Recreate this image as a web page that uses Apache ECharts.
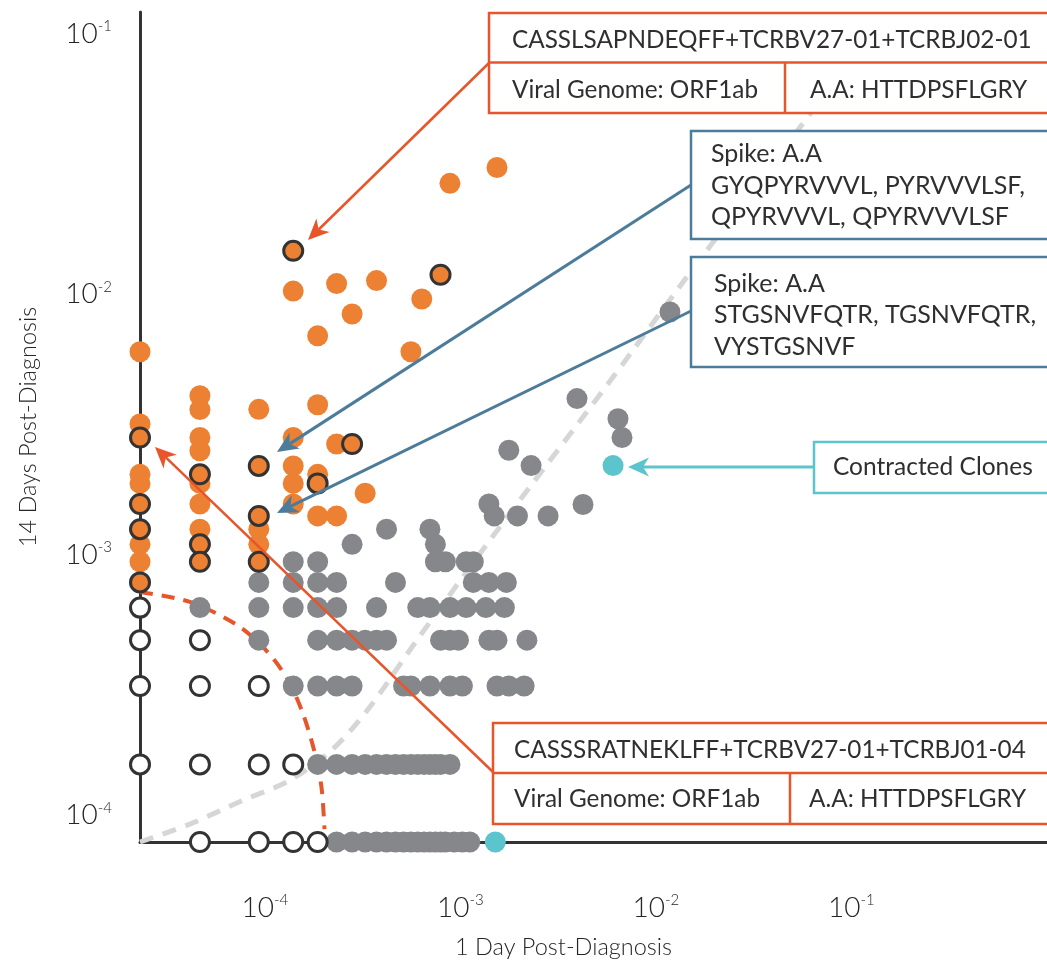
<!DOCTYPE html>
<html><head><meta charset="utf-8">
<script src="https://cdn.jsdelivr.net/npm/echarts@6/dist/echarts.min.js"></script>
<style>html,body{margin:0;padding:0;background:#fff}#c{width:1047px;height:964px}</style>
</head><body><div id="c"></div>
<script>
// ---- data: [1 day freq, 14 day freq]; 0 = not detected (drawn on the axis) ----
const tickExponents = [-4, -3, -2, -1];

const expandedClones = [
  [0, 6.02e-3], [0, 3.18e-3], [0, 2.037e-3], [0, 1.88e-3], [0, 1.097e-3], [0, 9.40e-4],
  [4.66e-5, 4.08e-3], [4.66e-5, 3.61e-3], [4.66e-5, 2.82e-3], [4.66e-5, 2.51e-3], [4.66e-5, 1.88e-3], [4.66e-5, 1.567e-3], [4.66e-5, 1.254e-3],
  [9.32e-5, 3.62e-3], [9.32e-5, 1.254e-3], [9.32e-5, 1.097e-3],
  [1.398e-4, 1.03e-2], [1.398e-4, 2.82e-3], [1.398e-4, 2.194e-3], [1.398e-4, 1.88e-3], [1.398e-4, 1.567e-3],
  [1.864e-4, 6.93e-3], [1.864e-4, 3.77e-3], [1.864e-4, 2.037e-3], [1.864e-4, 1.41e-3],
  [2.33e-4, 1.10e-2], [2.33e-4, 2.664e-3], [2.33e-4, 1.41e-3],
  [2.796e-4, 8.41e-3], [3.262e-4, 1.724e-3], [3.728e-4, 1.13e-2], [5.59e-4, 6.02e-3],
  [6.35e-4, 9.60e-3], [8.85e-4, 2.67e-2], [1.54e-3, 3.07e-2]
];

const annotatedClones = [
  [0, 2.821e-3], [0, 1.567e-3], [0, 1.254e-3], [0, 7.835e-4],
  [4.66e-5, 2.037e-3], [4.66e-5, 1.097e-3], [4.66e-5, 9.40e-4],
  [9.32e-5, 2.194e-3], [9.32e-5, 1.41e-3], [9.32e-5, 9.40e-4],
  [1.398e-4, 1.47e-2], [1.864e-4, 1.88e-3], [2.796e-4, 2.664e-3], [7.92e-4, 1.19e-2]
];

const belowThreshold = [
  [0, 1.567e-4], [0, 3.134e-4], [0, 4.701e-4], [0, 6.268e-4],
  [4.66e-5, 0], [4.66e-5, 1.567e-4], [4.66e-5, 3.134e-4], [4.66e-5, 4.701e-4],
  [9.32e-5, 0], [9.32e-5, 1.567e-4], [9.32e-5, 3.134e-4],
  [1.398e-4, 0], [1.398e-4, 1.567e-4],
  [1.864e-4, 0]
];

const stableClones = [
  // 14 day = 0
  [2.33e-4, 0], [2.796e-4, 0], [3.262e-4, 0], [3.728e-4, 0], [4.194e-4, 0], [4.66e-4, 0], [5.126e-4, 0],
  [5.592e-4, 0], [6.058e-4, 0], [6.524e-4, 0], [6.99e-4, 0], [7.456e-4, 0], [7.922e-4, 0], [8.388e-4, 0],
  [9.32e-4, 0], [1.025e-3, 0], [1.118e-3, 0],
  // 14 day = 1.567e-4
  [1.864e-4, 1.567e-4], [2.33e-4, 1.567e-4], [2.796e-4, 1.567e-4], [3.262e-4, 1.567e-4], [3.728e-4, 1.567e-4],
  [4.194e-4, 1.567e-4], [4.66e-4, 1.567e-4], [5.126e-4, 1.567e-4], [5.592e-4, 1.567e-4], [6.058e-4, 1.567e-4],
  [6.524e-4, 1.567e-4], [6.99e-4, 1.567e-4], [7.456e-4, 1.567e-4], [7.922e-4, 1.567e-4], [8.854e-4, 1.567e-4],
  // 14 day = 3.134e-4
  [1.398e-4, 3.134e-4], [1.864e-4, 3.134e-4], [2.33e-4, 3.134e-4], [2.796e-4, 3.134e-4], [5.126e-4, 3.134e-4],
  [5.592e-4, 3.134e-4], [6.99e-4, 3.134e-4], [8.854e-4, 3.134e-4], [1.025e-3, 3.134e-4], [1.54e-3, 3.134e-4],
  [1.77e-3, 3.134e-4], [2.12e-3, 3.134e-4],
  // 14 day = 4.701e-4
  [9.32e-5, 4.701e-4], [1.864e-4, 4.701e-4], [2.33e-4, 4.701e-4], [2.796e-4, 4.701e-4], [3.262e-4, 4.701e-4],
  [3.728e-4, 4.701e-4], [4.194e-4, 4.701e-4], [7.922e-4, 4.701e-4], [8.854e-4, 4.701e-4], [9.786e-4, 4.701e-4],
  [1.40e-3, 4.701e-4], [1.54e-3, 4.701e-4], [2.19e-3, 4.701e-4],
  // 14 day = 6.268e-4
  [4.66e-5, 6.268e-4], [9.32e-5, 6.268e-4], [1.398e-4, 6.268e-4], [1.864e-4, 6.268e-4], [2.33e-4, 6.268e-4],
  [3.728e-4, 6.268e-4], [6.058e-4, 6.268e-4], [6.99e-4, 6.268e-4], [8.854e-4, 6.268e-4], [1.072e-3, 6.268e-4],
  [1.35e-3, 6.268e-4], [1.68e-3, 6.268e-4],
  // 14 day = 7.835e-4
  [9.32e-5, 7.835e-4], [1.398e-4, 7.835e-4], [1.864e-4, 7.835e-4], [2.33e-4, 7.835e-4], [4.66e-4, 7.835e-4],
  [1.165e-3, 7.835e-4], [1.40e-3, 7.835e-4], [1.72e-3, 7.835e-4],
  // 14 day = 9.402e-4
  [1.398e-4, 9.402e-4], [1.864e-4, 9.402e-4], [7.456e-4, 9.402e-4], [8.388e-4, 9.402e-4], [1.072e-3, 9.402e-4], [1.165e-3, 9.402e-4],
  // higher
  [2.796e-4, 1.097e-3], [7.456e-4, 1.097e-3], [4.194e-4, 1.254e-3], [6.99e-4, 1.254e-3],
  [1.40e-3, 1.567e-3], [1.49e-3, 1.41e-3], [1.96e-3, 1.41e-3], [2.81e-3, 1.41e-3],
  [1.77e-3, 2.52e-3], [2.30e-3, 2.20e-3], [3.95e-3, 3.98e-3], [4.24e-3, 1.56e-3],
  [6.40e-3, 3.33e-3], [6.71e-3, 2.82e-3], [1.18e-2, 8.56e-3]
];

const contractedClones = [[6.04e-3, 2.20e-3], [1.51e-3, 0]];

const thresholdCurve = [
  [0, 7.20e-4], [4.14e-5, 6.59e-4], [7.20e-5, 5.38e-4], [1.0e-4, 4.35e-4], [1.295e-4, 3.37e-4],
  [1.56e-4, 2.48e-4], [1.80e-4, 1.74e-4], [1.95e-4, 1.28e-4], [2.02e-4, 8.84e-5]
];

const identityCurve = [
  [0, 0], [4.14e-5, 9.24e-5], [7.72e-5, 1.14e-4], [1.34e-4, 1.36e-4], [2.22e-4, 1.79e-4],
  [3.43e-4, 2.59e-4], [5.96e-4, 4.67e-4], [1.58e-3, 1.27e-3], [5.96e-3, 4.75e-3],
  [1.42e-2, 1.15e-2], [7.63e-2, 6.11e-2]
];

// ---- chart ----
const X_MIN = -4.638, X_MAX = 0, Y_MIN = -4.103, Y_MAX = -0.9155;
const lx = v => v > 0 ? Math.log10(v) : X_MIN;
const ly = v => v > 0 ? Math.log10(v) : Y_MIN;
const toXY = arr => arr.map(([a, b]) => [lx(a), ly(b)]);

const FONT = 'Lato, "Noto Sans", sans-serif';
const TXT = '#262626';
const RED = '#E8552B', BLUE = '#4D7C9A', TEAL = '#5BC4CC';
const ORANGE = '#ED8133', GRAY = '#86878B', DARK = '#333333';

const labelRich = {
  b: { fontSize: 28, fontWeight: 300, color: TXT, fontFamily: FONT, lineHeight: 30 },
  s: { fontSize: 15, fontWeight: 300, color: TXT, fontFamily: FONT, lineHeight: 20, verticalAlign: 'top' }
};
const fmt = v => '{b|10}{s|' + Math.round(v) + '}';

const chart = echarts.init(document.getElementById('c'));

function arrow(x1, y1, x2, y2, color, w) {
  const dx = x2 - x1, dy = y2 - y1, len = Math.hypot(dx, dy);
  const ux = dx / len, uy = dy / len, px = -uy, py = ux;
  const L = 21, W = 9.5, N = 6;
  const bx = x2 - ux * L, by = y2 - uy * L;
  const nx = x2 - ux * (L - N), ny = y2 - uy * (L - N);
  return [
    { type: 'line', z: 100, shape: { x1, y1, x2: nx, y2: ny }, style: { stroke: color, lineWidth: w } },
    { type: 'polygon', z: 101, shape: { points: [[x2, y2], [bx + px * W, by + py * W], [nx, ny], [bx - px * W, by - py * W]] }, style: { fill: color } }
  ];
}
function box(x, y, w, h, color) {
  return { type: 'rect', z: 100, shape: { x, y, width: w, height: h }, style: { fill: '#fff', stroke: color, lineWidth: 2.5 } };
}
function seg(x1, y1, x2, y2, color) {
  return { type: 'line', z: 101, shape: { x1, y1, x2, y2 }, style: { stroke: color, lineWidth: 2.5 } };
}
function txt(x, y, t, size) {
  return { type: 'text', z: 102, x, y, style: { text: t, fill: '#2f2f2f', fontSize: size, fontFamily: FONT, align: 'left', verticalAlign: 'middle' } };
}

const graphics = [
  ...arrow(489, 63, 308, 240, RED, 2.5),
  ...arrow(493, 772, 155, 447, RED, 2.5),
  ...arrow(691, 185, 277, 452, BLUE, 3),
  ...arrow(691, 311, 277, 513, BLUE, 3),
  ...arrow(814, 467, 628, 467, TEAL, 3),
  box(489, 13, 600, 100, RED), seg(489, 62.5, 1060, 62.5, RED), seg(785, 62.5, 785, 113, RED),
  txt(512, 40, 'CASSLSAPNDEQFF+TCRBV27-01+TCRBJ02-01', 24.3),
  txt(512, 90, 'Viral Genome: ORF1ab', 24.3),
  txt(810, 90, 'A.A: HTTDPSFLGRY', 24.3),
  box(691, 131, 400, 108, BLUE),
  txt(711, 154, 'Spike: A.A', 25), txt(711, 185.5, 'GYQPYRVVVL, PYRVVVLSF,', 25), txt(711, 217, 'QPYRVVVL, QPYRVVVLSF', 25),
  box(691, 257, 400, 110, BLUE),
  txt(714, 284, 'Spike: A.A', 25), txt(714, 315, 'STGSNVFQTR, TGSNVFQTR,', 25), txt(714, 347, 'VYSTGSNVF', 25),
  box(814, 442, 300, 51, TEAL),
  txt(833, 467, 'Contracted Clones', 24.5),
  box(493, 723, 600, 101, RED), seg(493, 773, 1060, 773, RED), seg(790, 773, 790, 824, RED),
  txt(514, 750, 'CASSSRATNEKLFF+TCRBV27-01+TCRBJ01-04', 24.3),
  txt(514, 799, 'Viral Genome: ORF1ab', 24.3),
  txt(809, 799, 'A.A: HTTDPSFLGRY', 24.3)
];

const option = {
  animation: false,
  backgroundColor: '#fff',
  grid: { left: 140, top: 12, width: 909, height: 833 },
  xAxis: {
    type: 'value', min: X_MIN, max: X_MAX,
    axisLine: { onZero: false, lineStyle: { color: DARK, width: 3 } },
    axisTick: { show: false }, splitLine: { show: false },
    axisLabel: { customValues: tickExponents, margin: 51, formatter: fmt, rich: labelRich },
    name: '1 Day Post-Diagnosis', nameLocation: 'middle', nameGap: 93,
    nameTextStyle: { fontSize: 23.5, fontWeight: 300, color: TXT, fontFamily: FONT, padding: [0, 60, 0, 0] }
  },
  yAxis: {
    type: 'value', min: Y_MIN, max: Y_MAX,
    axisLine: { onZero: false, lineStyle: { color: DARK, width: 3 } },
    axisTick: { show: false }, splitLine: { show: false },
    axisLabel: { customValues: tickExponents, margin: 28, formatter: fmt, rich: labelRich },
    name: '14 Days Post-Diagnosis', nameLocation: 'middle', nameGap: 100,
    nameTextStyle: { fontSize: 23.5, fontWeight: 300, color: TXT, fontFamily: FONT }
  },
  series: [
    { type: 'line', data: toXY(identityCurve), showSymbol: false, smooth: 0.3, clip: false, silent: true, z: 1,
      lineStyle: { color: '#d6d6d6', width: 5, type: [14, 10] } },
    { type: 'line', data: toXY(thresholdCurve), showSymbol: false, smooth: 0.3, clip: false, silent: true, z: 1,
      lineStyle: { color: RED, width: 4, type: [13, 9] } },
    { type: 'scatter', data: toXY(stableClones), symbolSize: 21, clip: false, z: 2, itemStyle: { color: GRAY, opacity: 1 } },
    { type: 'scatter', data: toXY(belowThreshold), symbolSize: 19, clip: false, z: 3, itemStyle: { color: '#fff', borderColor: DARK, borderWidth: 3, opacity: 1 } },
    { type: 'scatter', data: toXY(expandedClones), symbolSize: 21, clip: false, z: 4, itemStyle: { color: ORANGE, opacity: 1 } },
    { type: 'scatter', data: toXY(annotatedClones), symbolSize: 19, clip: false, z: 5, itemStyle: { color: ORANGE, borderColor: DARK, borderWidth: 3, opacity: 1 } },
    { type: 'scatter', data: toXY(contractedClones), symbolSize: 21, clip: false, z: 6, itemStyle: { color: TEAL, opacity: 1 } }
  ],
  graphic: { elements: graphics }
};
chart.setOption(option);
</script>
</body></html>
